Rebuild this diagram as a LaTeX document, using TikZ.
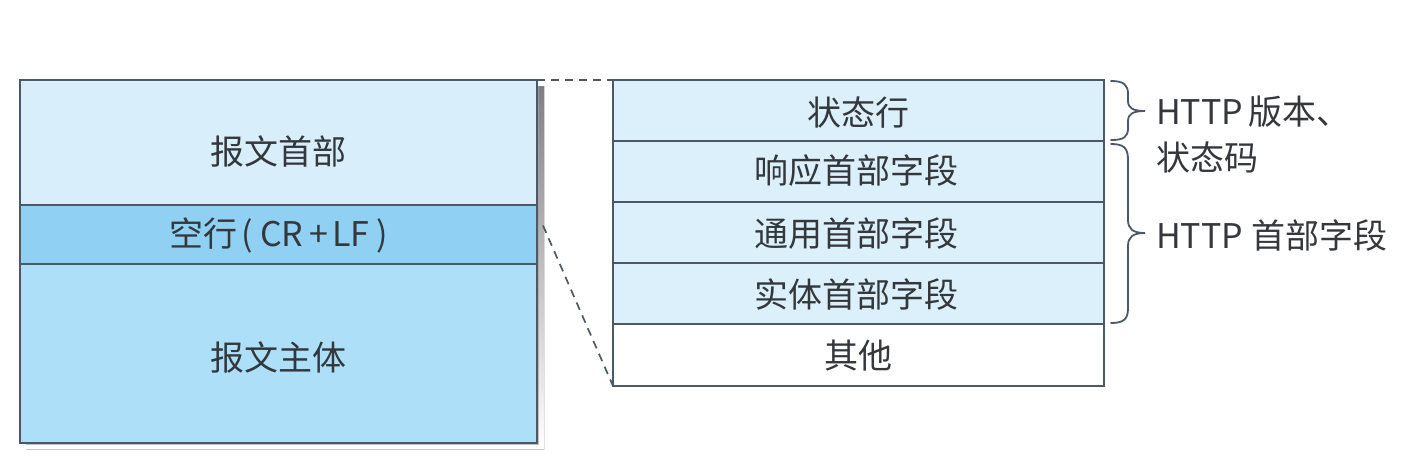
\documentclass[tikz,border=0pt]{standalone}
\usepackage{fontspec}
\usetikzlibrary{calc}
\setmainfont{Noto Sans CJK SC}
\definecolor{txt}{HTML}{34383C}
\definecolor{edge}{HTML}{4C5864}
\definecolor{bandA}{HTML}{D8EEFB}
\definecolor{bandB}{HTML}{8FD0F3}
\definecolor{bandC}{HTML}{ADDFF8}
\definecolor{rowc}{HTML}{DBF0FB}
\definecolor{shade}{HTML}{6E7479}
\tikzset{
  band/.style={draw=edge, line width=2pt, minimum width=517pt, inner sep=0pt, outer sep=0pt},
  rowbox/.style={draw=edge, line width=2pt, fill=rowc, minimum width=491pt, minimum height=61pt, inner sep=0pt, outer sep=0pt},
  lbl/.style={text=txt, font=\fontsize{34}{40}\selectfont, inner sep=0pt},
  side/.style={text=txt, font=\fontsize{34}{40}\selectfont, inner sep=0pt, anchor=west},
  dashlink/.style={draw=edge, line width=1.7pt, dash pattern=on 8pt off 6pt},
  bracepath/.style={draw=edge, line width=1.8pt, line cap=round}
}
\begin{document}
\begin{tikzpicture}[x=1pt,y=-1pt]
\useasboundingbox (0,0) rectangle (1426,458);
\fill[white] (0,0) rectangle (1426,458);
% left box bands
\node[band, fill=bandA, minimum height=125pt] (L1) at (278.5,142.5) {};
\node[band, fill=bandB, minimum height=59pt] (L2) at (278.5,234.5) {};
\node[band, fill=bandC, minimum height=179pt] (L3) at (278.5,353.5) {};
% shadow of left box (right and bottom strips)
\fill[shade] (538.5,86) -- (544,86) -- (544,449.5) -- (26,449.5) -- (26,444.5) -- (538.5,444.5) -- cycle;
\node[lbl] (t1) at (278,151) {报文首部};
\node[lbl] (t2) at (279,235) {空行\hspace{4pt}(\hspace{7pt}CR\hspace{6pt}+\hspace{4pt}LF\hspace{7pt})};
\node[lbl] (t3) at (278,357) {报文主体};
% right box rows
\node[rowbox] (R1) at (858.5,110.5) {};
\node[rowbox] (R2) at (858.5,171.5) {};
\node[rowbox] (R3) at (858.5,232.5) {};
\node[rowbox] (R4) at (858.5,293.5) {};
\node[rowbox, fill=white, minimum height=62pt] (R5) at (858.5,355) {};
\node[lbl] at (858,113) {状态行};
\node[lbl] at (856,171) {响应首部字段};
\node[lbl] at (856,234) {通用首部字段};
\node[lbl] at (856,295) {实体首部字段};
\node[lbl] at (858,356) {其他};
% dashed links
\coordinate (d1) at ($(L2.east)+(6,-9)$);
\draw[dashlink] (L1.north east) -- (R1.north west);
\draw[dashlink] (d1) -- (R5.south west);
% braces
\coordinate (b1a) at (1111,81);
\coordinate (b1b) at (1111,140);
\coordinate (b2a) at (1111,144);
\coordinate (b2b) at (1111,323);
\draw[bracepath] (b1a) .. controls (1124,81) and (1128,85) .. (1128,94)
  -- (1128,101) .. controls (1128,108) and (1133,111) .. (1145,111)
  .. controls (1133,111) and (1128,114) .. (1128,121)
  -- (1128,128) .. controls (1128,137) and (1124,140) .. (b1b);
\draw[bracepath] (b2a) .. controls (1124,144) and (1128,148) .. (1128,160)
  -- (1128,220) .. controls (1128,229) and (1133,233) .. (1145,233)
  .. controls (1133,233) and (1128,237) .. (1128,246)
  -- (1128,308) .. controls (1128,319) and (1124,323) .. (b2b);
\node[side] (s1) at (1156,112) {HTTP\hspace{5pt}版本、};
\node[side] (s2) at (1156,157) {状态码};
\node[side] (s3) at (1156,236) {HTTP\hspace{8pt}首部字段};
\end{tikzpicture}
\end{document}
